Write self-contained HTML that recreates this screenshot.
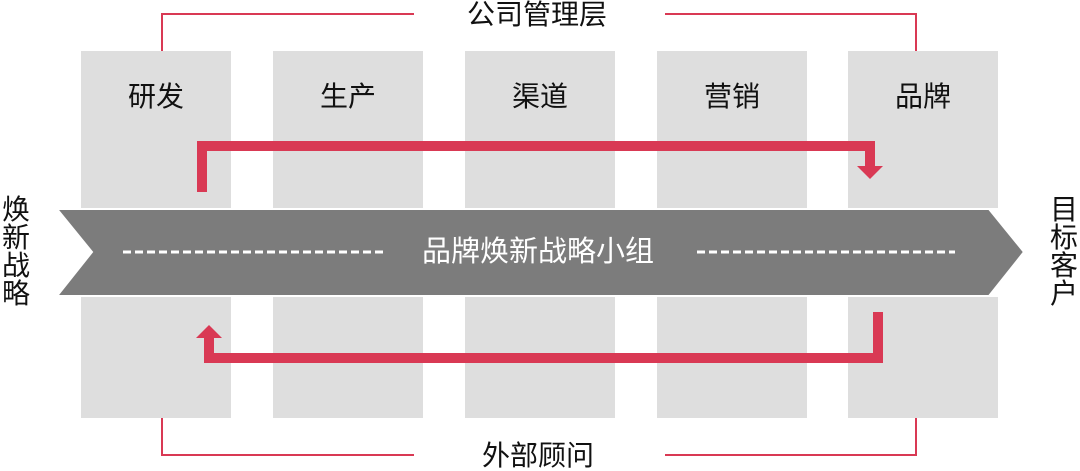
<!DOCTYPE html>
<html><head><meta charset="utf-8"><style>
body{margin:0;width:1080px;height:470px;background:#fff;overflow:hidden;position:relative;font-family:"Liberation Sans","Noto Sans CJK SC",sans-serif;}
.b{position:absolute;background:#dedede;}
.t{position:absolute;font-size:28px;color:#111;line-height:1;white-space:nowrap;}
.l{position:absolute;background:#d93954;}
</style></head><body>
<div class="b" style="left:81px;top:51px;width:150px;height:157px"></div>
<div class="b" style="left:273px;top:51px;width:150px;height:157px"></div>
<div class="b" style="left:465px;top:51px;width:150px;height:157px"></div>
<div class="b" style="left:657px;top:51px;width:150px;height:157px"></div>
<div class="b" style="left:848px;top:51px;width:150px;height:157px"></div>
<div class="b" style="left:81px;top:297px;width:150px;height:121px"></div>
<div class="b" style="left:273px;top:297px;width:150px;height:121px"></div>
<div class="b" style="left:465px;top:297px;width:150px;height:121px"></div>
<div class="b" style="left:657px;top:297px;width:150px;height:121px"></div>
<div class="b" style="left:848px;top:297px;width:150px;height:121px"></div>

<div class="t" style="left:128px;top:83px">研发</div>
<div class="t" style="left:320px;top:83px">生产</div>
<div class="t" style="left:512px;top:83px">渠道</div>
<div class="t" style="left:704px;top:83px">营销</div>
<div class="t" style="left:895px;top:83px">品牌</div>

<div class="l" style="left:161px;top:13px;width:253px;height:2px"></div>
<div class="l" style="left:161px;top:13px;width:2px;height:38px"></div>
<div class="l" style="left:665px;top:13px;width:252px;height:2px"></div>
<div class="l" style="left:915px;top:13px;width:2px;height:38px"></div>
<div class="l" style="left:161px;top:454px;width:253px;height:2px"></div>
<div class="l" style="left:161px;top:418px;width:2px;height:38px"></div>
<div class="l" style="left:665px;top:454px;width:252px;height:2px"></div>
<div class="l" style="left:915px;top:418px;width:2px;height:38px"></div>
<div class="t" style="left:467px;top:1px">公司管理层</div>
<div class="t" style="left:482px;top:442px">外部顾问</div>

<svg style="position:absolute;left:0;top:0" width="1080" height="470">
<polygon points="57,209 989,209 1024,252 989,296 57,296 92,252" fill="#7c7c7c" stroke="#fff" stroke-width="2"/>
<line x1="123" y1="252" x2="383" y2="252" stroke="#fff" stroke-width="3" stroke-dasharray="8,4"/>
<line x1="697" y1="252" x2="955" y2="252" stroke="#fff" stroke-width="3" stroke-dasharray="8,4"/>
<polyline points="202,192 202,146 870,146 870,167" fill="none" stroke="#d93954" stroke-width="10"/>
<polygon points="857,166 883,166 870,179" fill="#d93954"/>
<polyline points="878,312 878,358 209,358 209,337" fill="none" stroke="#d93954" stroke-width="10"/>
<polygon points="196,338 222,338 209,325" fill="#d93954"/>
</svg>
<div class="t" style="left:422px;top:238px;color:#fff;font-size:29px">品牌焕新战略小组</div>
<div class="t" style="left:2px;top:196px;width:29px;line-height:28px;white-space:normal;font-size:28px">焕新战略</div>
<div class="t" style="left:1050px;top:196px;width:29px;line-height:28px;white-space:normal;font-size:28px">目标客户</div>
</body></html>
